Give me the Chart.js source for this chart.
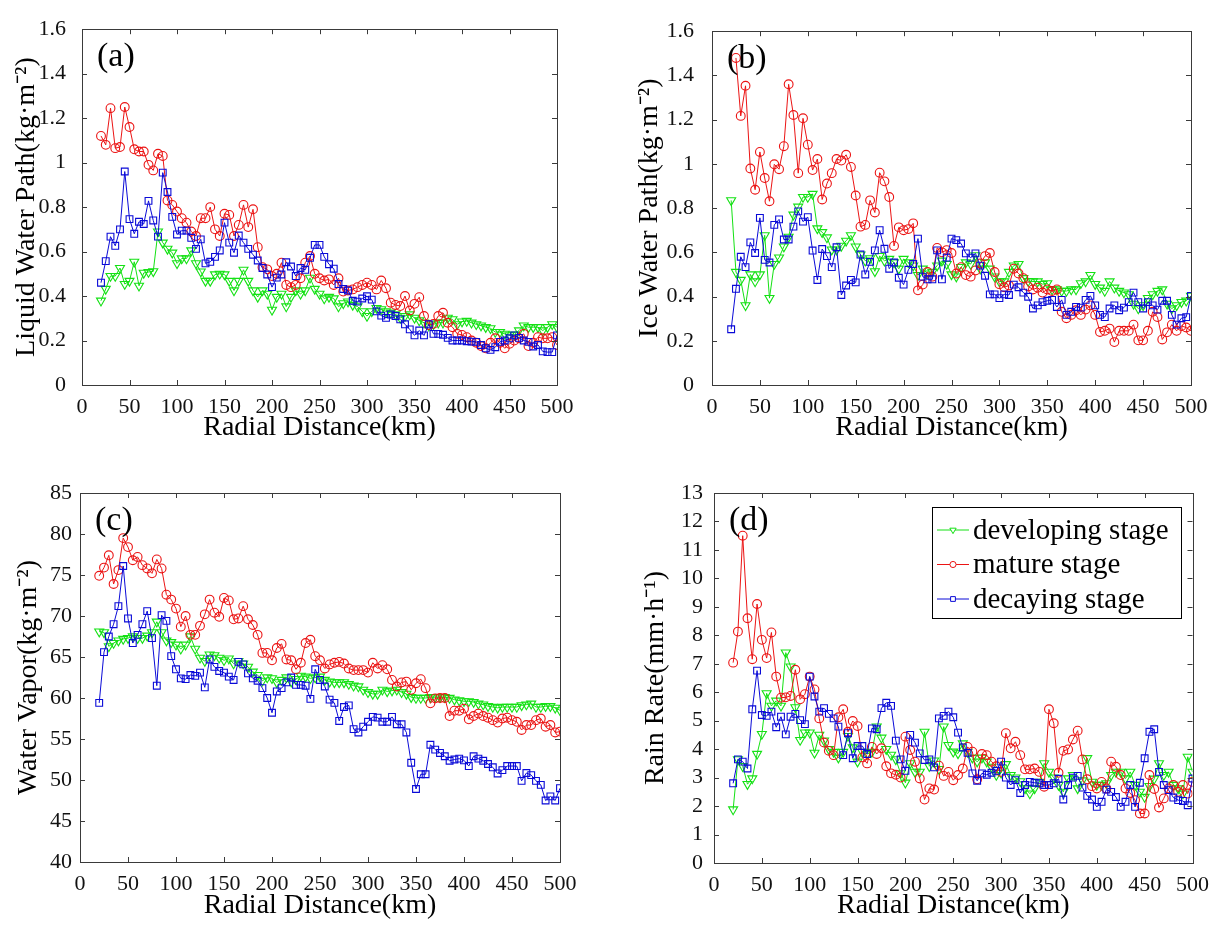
<!DOCTYPE html>
<html>
<head>
<meta charset="utf-8">
<title>Radial profiles</title>
<script src="https://cdn.jsdelivr.net/npm/chart.js@4.4.0/dist/chart.umd.min.js"></script>
<style>
  html, body { margin: 0; padding: 0; background: #fff; }
  #wrap { position: relative; width: 1218px; height: 936px; overflow: hidden; }
  canvas { position: absolute; }
</style>
</head>
<body>
<div id="wrap">
  <canvas id="chartA" width="615" height="450" style="left:0;top:0"></canvas>
  <canvas id="chartB" width="603" height="450" style="left:615px;top:0"></canvas>
  <canvas id="chartC" width="615" height="486" style="left:0;top:450px"></canvas>
  <canvas id="chartD" width="603" height="486" style="left:615px;top:450px"></canvas>
</div>
<script>
// ========== DADOS ==========
const distancias = [
  20, 25, 30, 35, 40, 45, 50, 55, 60, 65,
  70, 75, 80, 85, 90, 95, 100, 105, 110, 115,
  120, 125, 130, 135, 140, 145, 150, 155, 160, 165,
  170, 175, 180, 185, 190, 195, 200, 205, 210, 215,
  220, 225, 230, 235, 240, 245, 250, 255, 260, 265,
  270, 275, 280, 285, 290, 295, 300, 305, 310, 315,
  320, 325, 330, 335, 340, 345, 350, 355, 360, 365,
  370, 375, 380, 385, 390, 395, 400, 405, 410, 415,
  420, 425, 430, 435, 440, 445, 450, 455, 460, 465,
  470, 475, 480, 485, 490, 495, 500
];
const xTicks = [0, 50, 100, 150, 200, 250, 300, 350, 400, 450, 500];
const nomesSeries = ['developing stage', 'mature stage', 'decaying stage'];

// (a) Liquid Water Path
const lwpDeveloping = [
  0.379, 0.432, 0.49, 0.49, 0.526, 0.454, 0.468, 0.554, 0.446, 0.504,
  0.508, 0.511, 0.69, 0.64, 0.612, 0.595, 0.547, 0.569, 0.569, 0.605,
  0.547, 0.51, 0.468, 0.468, 0.497, 0.50, 0.497, 0.468, 0.425, 0.468,
  0.518, 0.468, 0.425, 0.396, 0.425, 0.41, 0.338, 0.396, 0.41, 0.353,
  0.396, 0.425, 0.41, 0.425, 0.482, 0.432, 0.41, 0.389, 0.396, 0.389,
  0.353, 0.367, 0.375, 0.36, 0.353, 0.331, 0.31, 0.331, 0.346, 0.34,
  0.331, 0.325, 0.317, 0.302, 0.31, 0.317, 0.302, 0.29, 0.28, 0.267,
  0.273, 0.28, 0.28, 0.302, 0.295, 0.273, 0.285, 0.288, 0.28, 0.273,
  0.267, 0.26, 0.255, 0.238, 0.238, 0.23, 0.223, 0.226, 0.245, 0.267,
  0.26, 0.26, 0.26, 0.245, 0.26, 0.273, 0.26
];
const lwpMature = [
  1.12, 1.08, 1.245, 1.065, 1.07, 1.25, 1.16, 1.06, 1.05, 1.05,
  0.99, 0.965, 1.04, 1.03, 0.83, 0.81, 0.78, 0.75, 0.73, 0.69,
  0.67, 0.75, 0.75, 0.80, 0.70, 0.67, 0.77, 0.765, 0.67, 0.72,
  0.81, 0.71, 0.79, 0.62, 0.53, 0.52, 0.49, 0.50, 0.55, 0.45,
  0.44, 0.45, 0.48, 0.55, 0.58, 0.50, 0.48, 0.47, 0.475, 0.45,
  0.48, 0.42, 0.425, 0.43, 0.44, 0.45, 0.46, 0.45, 0.43, 0.47,
  0.435, 0.37, 0.36, 0.355, 0.40, 0.335, 0.365, 0.395, 0.31, 0.27,
  0.275, 0.31, 0.325, 0.28, 0.26, 0.23, 0.225, 0.215, 0.20, 0.19,
  0.175, 0.165, 0.19, 0.21, 0.19, 0.165, 0.185, 0.20, 0.21, 0.23,
  0.175, 0.19, 0.215, 0.21, 0.21, 0.215, 0.18
];
const lwpDecaying = [
  0.46, 0.557, 0.667, 0.626, 0.70, 0.96, 0.746, 0.68, 0.734, 0.724,
  0.828, 0.74, 0.667, 0.955, 0.868, 0.756, 0.677, 0.694, 0.694, 0.662,
  0.612, 0.655, 0.547, 0.554, 0.576, 0.605, 0.73, 0.64, 0.595, 0.672,
  0.64, 0.612, 0.586, 0.56, 0.526, 0.497, 0.44, 0.483, 0.497, 0.552,
  0.533, 0.49, 0.526, 0.518, 0.572, 0.63, 0.63, 0.576, 0.543, 0.523,
  0.454, 0.432, 0.425, 0.379, 0.375, 0.389, 0.399, 0.384, 0.331, 0.312,
  0.302, 0.317, 0.31, 0.295, 0.273, 0.25, 0.223, 0.245, 0.223, 0.273,
  0.23, 0.23, 0.226, 0.212, 0.20, 0.20, 0.20, 0.197, 0.195, 0.194,
  0.18, 0.165, 0.158, 0.17, 0.194, 0.20, 0.21, 0.223, 0.212, 0.20,
  0.194, 0.173, 0.18, 0.151, 0.148, 0.148, 0.223
];

// (b) Ice Water Path
const iwpDeveloping = [
  0.835, 0.511, 0.475, 0.36, 0.50, 0.468, 0.50, 0.677, 0.393, 0.547,
  0.576, 0.626, 0.67, 0.77, 0.806, 0.85, 0.85, 0.864, 0.708, 0.691,
  0.667, 0.612, 0.612, 0.629, 0.652, 0.677, 0.626, 0.59, 0.562, 0.573,
  0.514, 0.583, 0.562, 0.57, 0.554, 0.526, 0.57, 0.554, 0.54, 0.497,
  0.526, 0.504, 0.511, 0.54, 0.562, 0.547, 0.50, 0.49, 0.533, 0.554,
  0.547, 0.586, 0.526, 0.554, 0.526, 0.49, 0.468, 0.468, 0.511, 0.54,
  0.547, 0.483, 0.47, 0.468, 0.468, 0.456, 0.46, 0.432, 0.432, 0.425,
  0.425, 0.432, 0.432, 0.46, 0.468, 0.497, 0.456, 0.44, 0.425, 0.468,
  0.44, 0.425, 0.418, 0.41, 0.367, 0.346, 0.36, 0.393, 0.41, 0.425,
  0.432, 0.367, 0.346, 0.36, 0.375, 0.381, 0.403
];
const iwpMature = [
  null, 1.479, 1.217, 1.353, 0.979, 0.883, 1.054, 0.936, 0.831, 0.998,
  0.976, 1.08, 1.36, 1.221, 0.958, 1.206, 1.087, 0.972, 1.022, 0.839,
  0.911, 0.958, 1.022, 1.015, 1.041, 0.986, 0.857, 0.716, 0.724, 0.835,
  0.78, 0.96, 0.921, 0.85, 0.629, 0.713, 0.70, 0.705, 0.731, 0.428,
  0.454, 0.511, 0.49, 0.62, 0.60, 0.61, 0.597, 0.504, 0.533, 0.497,
  0.49, 0.518, 0.55, 0.583, 0.597, 0.511, 0.456, 0.442, 0.45, 0.526,
  0.504, 0.483, 0.446, 0.432, 0.44, 0.418, 0.432, 0.425, 0.432, 0.331,
  0.302, 0.317, 0.338, 0.317, 0.341, 0.36, 0.317, 0.24, 0.245, 0.255,
  0.194, 0.245, 0.245, 0.245, 0.273, 0.202, 0.202, 0.245, 0.331, 0.307,
  0.206, 0.238, 0.273, 0.245, 0.267, 0.26, 0.245
];
const iwpDecaying = [
  0.252, 0.435, 0.58, 0.533, 0.645, 0.597, 0.756, 0.566, 0.554, 0.724,
  0.749, 0.658, 0.658, 0.716, 0.785, 0.739, 0.759, 0.608, 0.475, 0.615,
  0.583, 0.533, 0.623, 0.407, 0.45, 0.475, 0.464, 0.59, 0.50, 0.557,
  0.609, 0.70, 0.616, 0.526, 0.554, 0.485, 0.454, 0.521, 0.547, 0.662,
  0.49, 0.478, 0.478, 0.609, 0.478, 0.576, 0.662, 0.655, 0.64, 0.595,
  0.576, 0.595, 0.54, 0.494, 0.41, 0.41, 0.393, 0.41, 0.407, 0.454,
  0.442, 0.418, 0.399, 0.346, 0.36, 0.375, 0.381, 0.385, 0.353, 0.385,
  0.317, 0.331, 0.353, 0.35, 0.385, 0.403, 0.36, 0.317, 0.307, 0.346,
  0.36, 0.338, 0.35, 0.375, 0.418, 0.375, 0.346, 0.375, 0.36, 0.341,
  0.381, 0.381, 0.317, 0.273, 0.302, 0.307, 0.403
];

// (c) Water Vapor
const wvDeveloping = [
  68.1, 68.0, 66.3, 66.7, 67.0, 67.2, 67.3, 67.5, 67.3, 67.3,
  67.6, 68.0, 69.3, 68.0, 67.0, 66.8, 66.5, 66.0, 66.5, 67.5,
  66.0, 64.9, 64.5, 65.3, 65.2, 64.9, 64.6, 64.8, 64.2, 64.5,
  64.2, 63.8, 63.2, 62.8, 62.1, 62.5, 62.4, 61.9, 62.2, 62.5,
  62.0, 62.3, 62.7, 62.6, 62.4, 62.5, 62.6, 62.2, 62.0, 61.9,
  61.9, 61.9, 61.7, 61.5, 61.4, 61.0, 60.7, 60.5, 60.5, 61.0,
  60.8, 60.9, 61.0, 60.7, 60.5, 60.1, 60.0, 60.0, 60.0, 60.1,
  60.1, 60.1, 60.1, 60.0, 59.8, 59.7, 59.6, 59.6, 59.5, 59.3,
  59.2, 59.0, 58.9, 58.8, 58.9, 58.9, 58.9, 58.9, 59.1, 59.2,
  59.3, 58.9, 58.9, 59.0, 59.0, 58.8, 58.5
];
const wvMature = [
  74.9, 75.9, 77.4, 73.9, 75.6, 79.5, 78.4, 76.8, 77.2, 76.2,
  75.8, 75.2, 76.9, 75.8, 72.6, 72.0, 70.9, 68.7, 70.0, 67.7,
  67.7, 68.8, 70.2, 72.0, 70.4, 69.9, 72.2, 71.9, 69.6, 69.7,
  71.2, 69.6, 68.9, 67.7, 65.5, 65.5, 64.6, 66.1, 66.6, 64.7,
  64.6, 63.5, 64.3, 66.7, 67.1, 65.1, 64.6, 63.6, 64.1, 64.3,
  64.4, 64.2, 63.6, 63.4, 63.4, 63.4, 63.1, 64.3, 63.6, 64.0,
  63.5, 62.2, 61.4, 61.9, 62.0, 61.0, 61.8, 62.3, 61.2, 59.35,
  59.96, 60.0, 60.0, 57.8, 58.45, 58.45, 58.7, 57.4, 57.8, 58.1,
  57.8, 57.6, 57.3, 57.0, 57.5, 57.6, 57.3, 57.1, 56.1, 56.7,
  56.7, 57.3, 57.5, 56.5, 56.7, 55.8, 55.9
];
const wvDecaying = [
  59.4, 65.6, 67.5, 69.0, 71.2, 76.1, 69.7, 66.7, 67.7, 69.0,
  70.6, 67.3, 61.5, 70.1, 69.4, 65.1, 63.5, 62.4, 62.3, 62.8,
  62.7, 63.1, 61.3, 64.7, 63.8, 63.3, 63.1, 62.6, 62.2, 64.4,
  64.1, 63.0, 62.4, 62.1, 61.2, 60.0, 58.2, 60.8, 61.2, 61.9,
  62.5, 61.6, 61.6, 61.5, 59.9, 63.5, 62.2, 61.4, 59.8, 59.4,
  57.2, 58.9, 59.1, 56.2, 55.8, 56.5, 57.1, 57.7, 57.6, 57.1,
  57.1, 57.7, 56.8, 56.8, 55.8, 52.1, 48.9, 50.7, 50.7, 54.3,
  53.7, 53.3, 52.9, 52.35, 52.5, 52.6, 52.4, 51.7, 52.9, 52.6,
  52.35, 51.95, 51.55, 50.8, 51.2, 51.7, 51.7, 51.7, 49.9, 50.85,
  50.6, 49.9, 49.4, 47.5, 48.0, 47.5, 49.0
];

// (d) Rain Rate
const rrDeveloping = [
  1.88, 3.64, 3.4, 2.77, 2.97, 3.83, 4.53, 5.96, 5.52, 5.7,
  5.52, 7.39, 6.9, 5.47, 4.32, 4.58, 4.58, 3.87, 4.5, 4.3,
  4.0, 3.9, 3.7, 3.9, 4.46, 4.06, 3.56, 3.9, 3.83, 3.9,
  4.79, 4.4, 4.0, 3.8, 3.64, 3.15, 2.82, 3.5, 3.2, 3.2,
  4.61, 3.4, 3.6, 3.3, 4.79, 4.14, 3.91, 3.85, 4.2, 3.9,
  3.7, 3.56, 3.7, 3.56, 3.38, 3.09, 3.17, 3.47, 3.09, 3.0,
  2.87, 2.62, 2.44, 2.62, 2.85, 3.5, 3.2, 3.0, 2.74, 2.5,
  2.97, 3.09, 2.62, 2.9, 3.68, 2.85, 2.74, 2.74, 2.8, 3.09,
  3.2, 3.2, 2.97, 3.2, 2.74, 2.5, 2.32, 2.7, 2.96, 3.5,
  3.09, 3.2, 2.74, 2.62, 2.44, 3.73, 3.2
];
const rrMature = [
  7.04, 8.13, 11.5, 8.6, 7.16, 9.1, 7.84, 7.2, 8.1, 6.55,
  5.81, 5.82, 5.87, 6.79, 5.75, 5.93, 6.55, 6.1, 5.08, 4.23,
  3.94, 3.79, 5.12, 5.4, 4.61, 4.99, 4.81, 3.71, 3.5, 4.08,
  3.83, 4.03, 3.4, 3.15, 3.1, 3.0, 4.44, 3.97, 3.56, 2.97,
  2.23, 2.62, 2.58, 3.42, 3.06, 3.2, 2.91, 3.09, 3.32, 4.08,
  3.91, 2.94, 3.83, 3.79, 3.56, 3.4, 3.2, 4.56, 4.03, 4.26,
  3.79, 3.29, 3.29, 3.32, 3.2, 2.68, 5.4, 4.91, 3.17, 3.94,
  3.99, 4.34, 4.65, 3.64, 2.94, 2.7, 2.62, 2.85, 2.62, 3.56,
  3.38, 3.09, 2.62, 2.46, 2.21, 1.74, 1.74, 3.09, 2.6, 1.95,
  2.27, 2.62, 2.74, 2.5, 2.74, 2.44, 2.85
];
const rrDecaying = [
  2.8, 3.64, 3.56, 3.32, 5.4, 6.76, 5.2, 5.17, 5.32, 4.77,
  5.14, 4.52, 5.14, 5.24, 5.02, 4.88, 6.55, 5.85, 5.32, 5.44,
  5.24, 5.08, 4.79, 3.79, 4.56, 3.68, 4.11, 4.11, 3.83, 4.73,
  4.7, 5.44, 5.63, 5.52, 4.3, 3.64, 3.24, 4.5, 4.23, 3.85,
  3.62, 3.64, 3.36, 5.08, 5.17, 5.32, 5.12, 4.58, 4.06, 3.87,
  3.15, 2.89, 3.15, 3.1, 3.17, 3.24, 3.56, 3.0, 2.74, 2.91,
  2.46, 2.74, 2.85, 2.82, 2.8, 2.74, 2.74, 2.8, 2.96, 2.23,
  2.74, 3.0, 3.06, 2.65, 2.36, 2.23, 1.97, 2.15, 2.58, 2.5,
  2.32, 1.97, 2.15, 2.74, 1.97, 2.82, 3.68, 4.61, 4.7, 3.2,
  2.74, 2.56, 2.3, 2.21, 2.18, 2.03, 2.97
];

// ========== ESTILO ==========
const FONTE = 'Liberation Serif, Times New Roman, serif';
const corVerde = 'rgb(20,225,20)';
const corVermelho = 'rgb(235,20,20)';
const corAzul = 'rgb(10,10,215)';

const estilos = [
  { cor: corVerde, ponto: 'triangle', rot: 180, raio: 5.2, ordem: 2 },
  { cor: corVermelho, ponto: 'circle', rot: 0, raio: 4.4, ordem: 1 },
  { cor: corAzul, ponto: 'rect', rot: 0, raio: 4.8, ordem: 0 }
];

// moldura, ticks para dentro, rótulo do painel e legenda
const molduraPlugin = {
  id: 'moldura',
  afterDraw(chart, args, opts) {
    const { ctx, chartArea: a } = chart;
    const sx = chart.scales.x, sy = chart.scales.y;
    const tam = 5;
    ctx.save();
    ctx.strokeStyle = '#3a3a3a';
    ctx.lineWidth = 1;
    ctx.beginPath();
    sx.ticks.forEach(t => {
      const px = Math.round(sx.getPixelForValue(t.value)) + 0.5;
      ctx.moveTo(px, a.bottom); ctx.lineTo(px, a.bottom - tam);
      ctx.moveTo(px, a.top); ctx.lineTo(px, a.top + tam);
    });
    sy.ticks.forEach(t => {
      const py = Math.round(sy.getPixelForValue(t.value)) + 0.5;
      ctx.moveTo(a.left, py); ctx.lineTo(a.left + tam, py);
      ctx.moveTo(a.right, py); ctx.lineTo(a.right - tam, py);
    });
    ctx.stroke();
    ctx.strokeRect(Math.round(a.left) + 0.5, Math.round(a.top) + 0.5,
      Math.round(a.right - a.left), Math.round(a.bottom - a.top));

    ctx.fillStyle = '#000';
    ctx.font = '34px ' + FONTE;
    ctx.textBaseline = 'alphabetic';
    ctx.textAlign = 'left';
    ctx.fillText(opts.rotulo, a.left + 15, a.top + 37);

    if (opts.legenda) {
      const L = opts.legenda;
      ctx.fillStyle = '#fff';
      ctx.fillRect(L.x, L.y, L.w, L.h);
      ctx.strokeStyle = '#000';
      ctx.strokeRect(L.x + 0.5, L.y + 0.5, L.w, L.h);
      ctx.font = '29px ' + FONTE;
      ctx.textBaseline = 'middle';
      chart.data.datasets.forEach((ds, i) => {
        const yy = L.y + 23 + i * 34.5;
        const e = estilos[i];
        ctx.strokeStyle = e.cor;
        ctx.lineWidth = 1;
        ctx.beginPath();
        ctx.moveTo(L.x + 5, yy); ctx.lineTo(L.x + 37, yy);
        ctx.stroke();
        ctx.fillStyle = '#fff';
        Chart.helpers.drawPoint(ctx, {
          pointStyle: e.ponto, rotation: e.rot, radius: e.raio * 0.7, borderWidth: 1
        }, L.x + 21, yy);
        ctx.fillStyle = '#000';
        ctx.fillText(ds.label, L.x + 41, yy + 1);
      });
    }
    ctx.restore();
  }
};

function serie(i, valores) {
  const e = estilos[i];
  return {
    label: nomesSeries[i],
    data: distancias.map((d, k) => ({ x: d, y: valores[k] })),
    borderColor: e.cor,
    borderWidth: 1,
    pointStyle: e.ponto,
    pointRotation: e.rot,
    pointRadius: e.raio,
    pointBorderWidth: 1.1,
    pointBorderColor: e.cor,
    pointBackgroundColor: 'rgba(0,0,0,0)',
    tension: 0,
    order: e.ordem,
    spanGaps: false
  };
}

function criarPainel(id, cfg) {
  const ctx = document.getElementById(id);
  return new Chart(ctx, {
    type: 'line',
    data: {
      datasets: [serie(0, cfg.series[0]), serie(1, cfg.series[1]), serie(2, cfg.series[2])]
    },
    options: {
      responsive: false,
      animation: false,
      events: [],
      layout: { padding: { left: 0, right: cfg.padRight, top: cfg.padTop, bottom: 0 } },
      plugins: {
        legend: { display: false },
        tooltip: { enabled: false },
        moldura: { rotulo: cfg.rotulo, legenda: cfg.legenda || null }
      },
      scales: {
        x: {
          type: 'linear',
          min: 0, max: 500,
          afterBuildTicks: s => { s.ticks = xTicks.map(v => ({ value: v })); },
          ticks: { padding: 9, autoSkip: false, maxRotation: 0, color: '#111', font: { family: FONTE, size: 22 } },
          grid: { display: false, drawTicks: false },
          border: { display: false },
          title: {
            display: true, text: 'Radial Distance(km)', color: '#000',
            font: { family: FONTE, size: 28 }, padding: { top: 0, bottom: cfg.xTitlePad }
          },
          afterFit: s => { s.height = cfg.xAltura; }
        },
        y: {
          type: 'linear',
          min: cfg.yMin, max: cfg.yMax,
          afterBuildTicks: s => { s.ticks = cfg.yTicks.map(v => ({ value: v })); },
          ticks: {
            padding: cfg.yPad, autoSkip: false, color: '#111', font: { family: FONTE, size: 22 },
            callback: v => String(Math.round(v * 10) / 10)
          },
          grid: { display: false, drawTicks: false },
          border: { display: false },
          title: {
            display: true, text: cfg.yTitulo, color: '#000',
            font: { family: FONTE, size: 28 }, padding: { top: cfg.yTitlePad, bottom: 0 }
          },
          afterFit: s => { s.width = cfg.yLargura; }
        }
      }
    },
    plugins: [molduraPlugin]
  });
}

const ticksCaminho = [0, 0.2, 0.4, 0.6, 0.8, 1, 1.2, 1.4, 1.6];

criarPainel('chartA', {
  series: [lwpDeveloping, lwpMature, lwpDecaying],
  rotulo: '(a)', yTitulo: 'Liquid Water Path(kg·m⁻²)',
  yMin: 0, yMax: 1.6, yTicks: ticksCaminho,
  padTop: 15, padRight: 58, yLargura: 82, xAltura: 65,
  yPad: 16, yTitlePad: 10, xTitlePad: 6
});
criarPainel('chartB', {
  series: [iwpDeveloping, iwpMature, iwpDecaying],
  rotulo: '(b)', yTitulo: 'Ice Water Path(kg·m⁻²)',
  yMin: 0, yMax: 1.6, yTicks: ticksCaminho,
  padTop: 15, padRight: 27, yLargura: 97, xAltura: 65,
  yPad: 18, yTitlePad: 18, xTitlePad: 6
});
criarPainel('chartC', {
  series: [wvDeveloping, wvMature, wvDecaying],
  rotulo: '(c)', yTitulo: 'Water Vapor(kg·m⁻²)',
  yMin: 40, yMax: 85, yTicks: [40, 45, 50, 55, 60, 65, 70, 75, 80, 85],
  padTop: 43, padRight: 55, yLargura: 80, xAltura: 74,
  yPad: 8, yTitlePad: 12, xTitlePad: 14
});
criarPainel('chartD', {
  series: [rrDeveloping, rrMature, rrDecaying],
  rotulo: '(d)', yTitulo: 'Rain Rate(mm·h⁻¹)',
  yMin: 0, yMax: 13, yTicks: [0, 1, 2, 3, 4, 5, 6, 7, 8, 9, 10, 11, 12, 13],
  padTop: 43, padRight: 24, yLargura: 99, xAltura: 73,
  yPad: 11, yTitlePad: 24, xTitlePad: 14,
  legenda: { x: 317, y: 57, w: 249, h: 111 }
});
</script>
</body>
</html>
